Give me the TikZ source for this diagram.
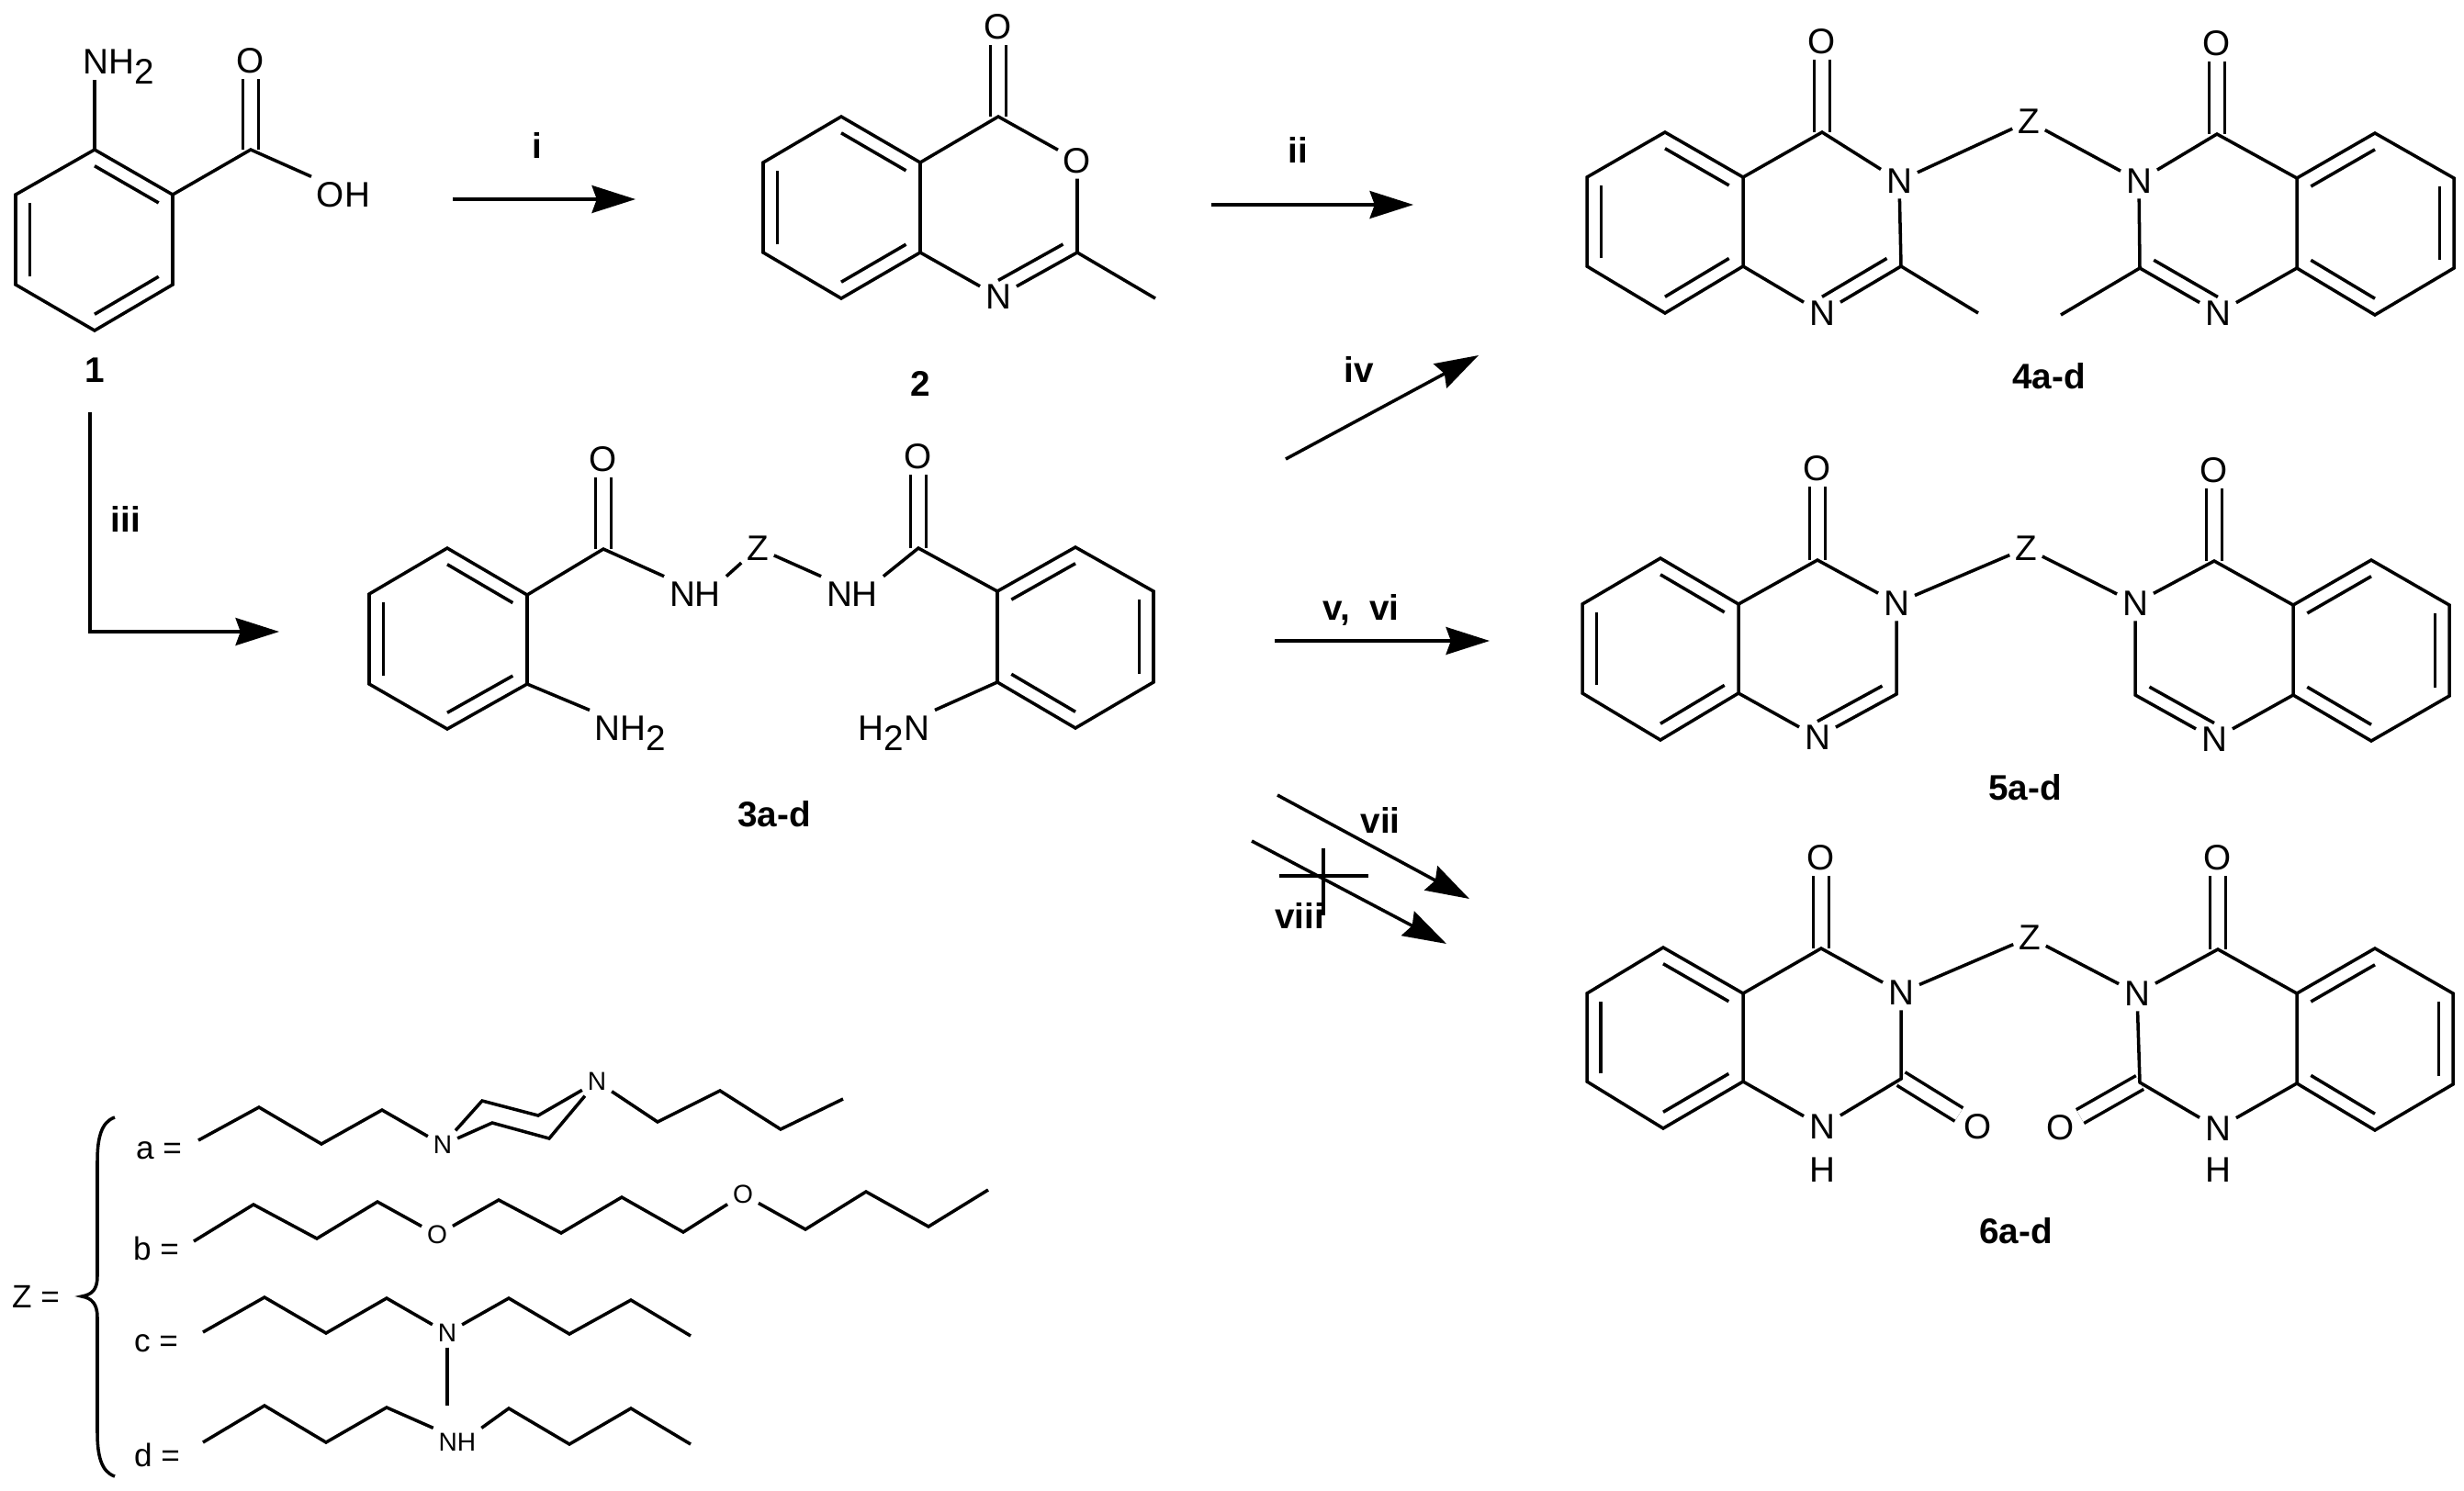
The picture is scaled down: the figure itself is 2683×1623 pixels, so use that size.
\documentclass[tikz,border=0pt]{standalone}
\usepackage{fontspec}
\setmainfont{Liberation Sans}
\usetikzlibrary{calc,arrows.meta}
\tikzset{
  bond/.style={line width=1pt},
  dbl/.style={bond,double,double distance=3.8pt},
  rxn/.style={line width=1pt,-{Stealth[length=13.5pt,width=8.5pt,inset=1.5pt]}},
  atom/.style={inner sep=1.5pt,font=\fontsize{11}{13}\selectfont},
  satom/.style={inner sep=1.5pt,font=\fontsize{8}{10}\selectfont},
  zlab/.style={inner sep=0pt,font=\fontsize{10}{12}\selectfont},
  cmpd/.style={inner sep=0pt,font=\fontsize{11}{13}\selectfont\bfseries},
}
\newcommand{\atoms}[2]{\foreach \x/\y [count=\i] in {#2}{\coordinate (#1\i) at (\x,\y);}}
\newcommand{\inbond}[3]{\draw[bond] ($(#1)!.18!(#3)$) -- ($(#2)!.18!(#3)$);}
\newcommand{\benzring}[1]{%
  \coordinate (#1c) at ($(#11)!.5!(#14)$);
  \draw[bond] (#11) -- (#12) -- (#13) -- (#14) -- (#15) -- (#16) -- cycle;
  \inbond{#11}{#12}{#1c}
  \inbond{#13}{#14}{#1c}
  \inbond{#15}{#16}{#1c}
}
\begin{document}
\begin{tikzpicture}[x=0.01cm,y=-0.01cm]
  \useasboundingbox (0,0) rectangle (2683,1623);

  % COMPOUNDS
  % 1
  \atoms{a}{103/163,188/212,188/310,103/360,17/310,17/212}
  \coordinate (aq) at (273,163);
  \node[atom,anchor=base west] (aNH) at (85,80) {NH\raisebox{-.3em}{2}};
  \node[atom] (aO) at (273,66) {O};
  \node[atom] (aOH) at (374,212) {OH};
  \node[cmpd] (l1) at (103,403) {1};
  \draw[dbl] (aq) -- (aO);
  \draw[bond] (a2) -- (aq) -- (aOH.north west);
  \draw[bond,shorten >=2pt] (a1) -- (a1 |- aNH.base);
  \benzring{a}

  % 2
  \atoms{b}{916/127,1002/177,1002/275,916/325,831/275,831/177}
  \atoms{bq}{1087/127,1173/275,1258/325}
  \node[atom] (bO) at (1087,29) {O};
  \node[atom] (bO1) at (1173,175) {O};
  \node[atom] (bN) at (1087,323) {N};
  \node[cmpd] (l2) at (1002,418) {2};
  \coordinate (bqc) at ($(bq1)!.5!(bN)$);
  \draw[dbl] (bq1) -- (bO);
  \draw[bond] (b2) -- (bq1) -- (bO1) -- (bq2) -- (bN) -- (b3);
  \draw[bond] (bq2) -- (bq3);
  \inbond{bq2}{bN}{bqc}
  \benzring{b}

  % 3a-d
  \atoms{m}{487/597,574/648,574/745,487/794,402/745,402/647}
  \atoms{n}{1171/596,1086/644,1086/743,1171/793,1256/743,1256/644}
  \coordinate (mq) at (657,598);
  \coordinate (nq) at (1000,597);
  \node[atom] (mO) at (657,500) {O};
  \node[atom] (nO) at (1000,497) {O};
  \node[atom] (mNH) at (757,647) {NH};
  \node[atom] (nNH) at (928,647) {NH};
  \node[atom] (mZ) at (825,597) {Z};
  \node[atom,anchor=base west] (mNH2) at (642,806) {NH\raisebox{-.3em}{2}};
  \node[atom,anchor=base east] (nNH2) at (1018,806) {H\raisebox{-.3em}{2}N};
  \node[cmpd] (l3) at (843,887) {3a-d};
  \draw[dbl] (mq) -- (mO);
  \draw[dbl] (nq) -- (nO);
  \draw[bond] (m2) -- (mq) -- (mNH.north west);
  \draw[bond] (n2) -- (nq) -- (nNH.north east);
  \draw[bond] (mNH.north east) -- (mZ) -- (nNH.north west);
  \draw[bond] (m3) -- (mNH2.north west);
  \draw[bond] (n3) -- (nNH2.north east);
  \benzring{m}
  \benzring{n}

  % 4a-d
  \atoms{d}{1813/144,1898/193,1898/290,1813/341,1728/290,1728/193}
  \atoms{e}{2586/145,2501/194,2501/292,2586/343,2672/292,2672/194}
  \atoms{dq}{1984/144,2070/290,2154/341}
  \atoms{eq}{2414/146,2330/292,2244/343}
  \node[atom] (dO) at (1984,45) {O};
  \node[atom] (eO) at (2414,47) {O};
  \node[atom] (dN3) at (2068,197) {N};
  \node[atom] (eN3) at (2329,197) {N};
  \node[atom] (dN1) at (1984,341) {N};
  \node[atom] (eN1) at (2415,341) {N};
  \node[atom] (dZ) at (2209,132) {Z};
  \node[cmpd] (l4) at (2231,410) {4a-d};
  \coordinate (dqc) at ($(dq1)!.5!(dN1)$);
  \coordinate (eqc) at ($(eq1)!.5!(eN1)$);
  \draw[dbl] (dq1) -- (dO);
  \draw[dbl] (eq1) -- (eO);
  \draw[bond] (d2) -- (dq1) -- (dN3) -- (dq2) -- (dN1) -- (d3);
  \draw[bond] (e2) -- (eq1) -- (eN3) -- (eq2) -- (eN1) -- (e3);
  \draw[bond] (dq2) -- (dq3);
  \draw[bond] (eq2) -- (eq3);
  \draw[bond] (dN3) -- (dZ) -- (eN3);
  \inbond{dq2}{dN1}{dqc}
  \inbond{eq2}{eN1}{eqc}
  \benzring{d}
  \benzring{e}

  % 5a-d
  \atoms{f}{1808/608,1893/658,1893/755,1808/806,1723/755,1723/658}
  \atoms{g}{2582/610,2497/659,2497/757,2582/807,2667/758,2667/659}
  \atoms{fq}{1979/610,2065/756}
  \atoms{gq}{2411/611,2325/757}
  \node[atom] (fO) at (1979,510) {O};
  \node[atom] (gO) at (2411,512) {O};
  \node[atom] (fN3) at (2065,657) {N};
  \node[atom] (gN3) at (2325,657) {N};
  \node[atom] (fN1) at (1979,803) {N};
  \node[atom] (gN1) at (2411,805) {N};
  \node[atom] (fZ) at (2206,597) {Z};
  \node[cmpd] (l5) at (2205,858) {5a-d};
  \coordinate (fqc) at ($(fq1)!.5!(fN1)$);
  \coordinate (gqc) at ($(gq1)!.5!(gN1)$);
  \draw[dbl] (fq1) -- (fO);
  \draw[dbl] (gq1) -- (gO);
  \draw[bond] (f2) -- (fq1) -- (fN3) -- (fq2) -- (fN1) -- (f3);
  \draw[bond] (g2) -- (gq1) -- (gN3) -- (gq2) -- (gN1) -- (g3);
  \draw[bond] (fN3) -- (fZ) -- (gN3);
  \inbond{fq2}{fN1}{fqc}
  \inbond{gq2}{gN1}{gqc}
  \benzring{f}
  \benzring{g}

  % 6a-d
  \atoms{h}{1811/1032,1898/1082,1898/1178,1811/1229,1728/1178,1728/1082}
  \atoms{k}{2586/1033,2501/1082,2501/1180,2586/1231,2671/1181,2671/1082}
  \atoms{hq}{1983/1033,2070/1175}
  \atoms{kq}{2415/1034,2330/1179}
  \node[atom] (hO) at (1983,934) {O};
  \node[atom] (kO) at (2415,934) {O};
  \node[atom] (hO2) at (2154,1227) {O};
  \node[atom] (kO2) at (2244,1228) {O};
  \node[atom] (hN3) at (2070,1081) {N};
  \node[atom] (kN3) at (2327,1082) {N};
  \node[atom] (hN1) at (1984,1227) {N};
  \node[atom] (kN1) at (2415,1229) {N};
  \node[atom] (hH) at (1984,1274) {H};
  \node[atom] (kH) at (2415,1274) {H};
  \node[atom] (hZ) at (2210,1021) {Z};
  \node[cmpd] (l6) at (2195,1341) {6a-d};
  \draw[dbl] (hq1) -- (hO);
  \draw[dbl] (kq1) -- (kO);
  \draw[dbl] (hq2) -- (hO2);
  \draw[dbl] (kq2) -- (kO2);
  \draw[bond] (h2) -- (hq1) -- (hN3) -- (hq2) -- (hN1) -- (h3);
  \draw[bond] (k2) -- (kq1) -- (kN3) -- (kq2) -- (kN1) -- (k3);
  \draw[bond] (hN3) -- (hZ) -- (kN3);
  \benzring{h}
  \benzring{k}

  % ARROWS
  \atoms{ar}{493/217,692/217,1319/223,1539/223,1400/500,1610/387,1388/698,1622/698,1391/866,1600/979,1363/916,1575/1028,98/449,304/688}
  \draw[rxn] (ar1) -- (ar2);
  \draw[rxn] (ar3) -- (ar4);
  \draw[rxn] (ar5) -- (ar6);
  \draw[rxn] (ar7) -- (ar8);
  \draw[rxn] (ar9) -- (ar10);
  \draw[rxn] (ar11) -- (ar12);
  \draw[rxn] (ar13) |- (ar14);
  \node[cmpd] (ri) at (585,158) {i};
  \node[cmpd] (rii) at (1413,163) {ii};
  \node[cmpd] (riii) at (137,565) {iii};
  \node[cmpd] (riv) at (1480,402) {iv};
  \node[cmpd] (rv) at (1482,664) {v,\ \ vi};
  \node[cmpd] (rvii) at (1503,893) {vii};
  \node[cmpd] (rviii) at (1415,997) {viii};
  % the cross on viii
  \atoms{cr}{1441/924,1441/997,1393/954,1490/954}
  \draw[bond] (cr1) -- (cr2);
  \draw[bond] (cr3) -- (cr4);

  % Z GROUPS
  \node[zlab] (zeq) at (39,1412) {Z =};
  \draw[bond] (125,1217) .. controls (110,1222) and (106,1240) .. (106,1265) -- (106,1390)
    .. controls (106,1405) and (100,1410) .. (89,1412)
    .. controls (100,1414) and (106,1420) .. (106,1435) -- (106,1560)
    .. controls (106,1585) and (110,1603) .. (125,1608);
  \node[zlab] (za) at (173,1253) {a =};
  \node[zlab] (zb) at (170,1360) {b =};
  \node[zlab] (zc) at (170,1463) {c =};
  \node[zlab] (zd) at (171,1585) {d =};

  % a
  \atoms{pa}{216/1242,282/1206,350/1246,416/1209}
  \atoms{pb}{716/1222,784/1188,850/1230,918/1197}
  \atoms{pr}{525/1199,586/1215,536/1223,598/1240}
  \node[satom] (paN) at (482,1247) {N};
  \node[satom] (pbN) at (650,1178) {N};
  \draw[bond] (pa1) -- (pa2) -- (pa3) -- (pa4) -- (paN);
  \draw[bond] (pbN) -- (pb1) -- (pb2) -- (pb3) -- (pb4);
  \draw[bond] (paN) -- (pr1) -- (pr2) -- (pbN);
  \draw[bond] (paN) -- (pr3) -- (pr4) -- (pbN);

  % b
  \atoms{qa}{211/1352,276/1312,345/1349,411/1309}
  \atoms{qb}{543/1307,611/1343,677/1304,744/1342}
  \atoms{qc}{877/1339,943/1298,1011/1336,1076/1296}
  \node[satom] (qaO) at (476,1345) {O};
  \node[satom] (qbO) at (809,1301) {O};
  \draw[bond] (qa1) -- (qa2) -- (qa3) -- (qa4) -- (qaO) -- (qb1) -- (qb2) -- (qb3) -- (qb4) -- (qbO)
    -- (qc1) -- (qc2) -- (qc3) -- (qc4);

  % c
  \atoms{sa}{221/1451,288/1413,355/1452,421/1414}
  \atoms{sb}{554/1414,620/1453,687/1416,752/1455}
  \coordinate (sme) at (487,1531);
  \node[satom] (sN) at (487,1452) {N};
  \draw[bond] (sa1) -- (sa2) -- (sa3) -- (sa4) -- (sN) -- (sb1) -- (sb2) -- (sb3) -- (sb4);
  \draw[bond] (sN) -- (sme);

  % d
  \atoms{ta}{221/1571,288/1531,355/1571,421/1533}
  \atoms{tb}{554/1534,620/1573,687/1534,752/1573}
  \node[satom] (tN) at (498,1571) {NH};
  \draw[bond] (ta1) -- (ta2) -- (ta3) -- (ta4) -- (tN.north west);
  \draw[bond] (tN.north east) -- (tb1) -- (tb2) -- (tb3) -- (tb4);
\end{tikzpicture}
\end{document}
